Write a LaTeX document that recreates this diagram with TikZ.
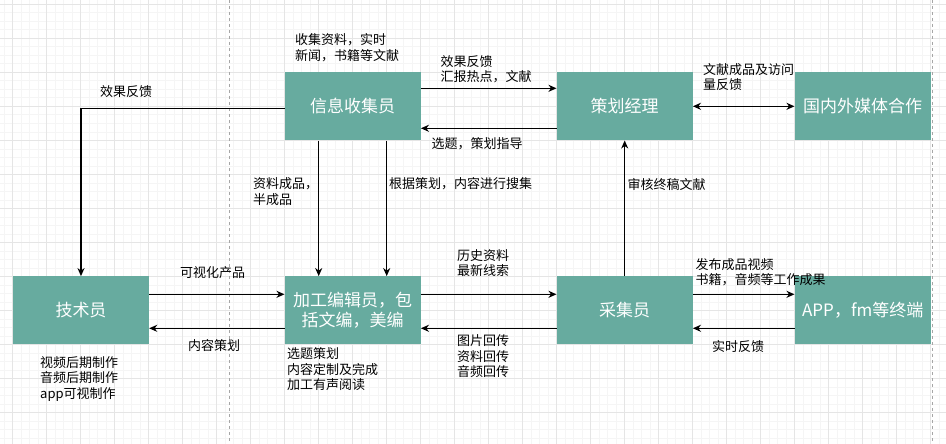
\documentclass[tikz,border=0pt]{standalone}
\usepackage{fontspec}
\setmainfont{Noto Sans CJK SC}
\usepackage{xcolor}
\usetikzlibrary{arrows.meta, positioning, calc}
\definecolor{boxteal}{HTML}{67AB9F}
\tikzstyle{role} = [rectangle, fill=boxteal, text=white, minimum width=136pt, minimum height=68pt, inner sep=0pt, align=center, font=\fontsize{17}{20}\selectfont]
\tikzstyle{note} = [anchor=west, inner sep=0pt, align=left, font=\fontsize{13}{15.5}\selectfont]
\tikzstyle{arrow} = [line width=1.3pt, -{Stealth[length=8pt,width=7pt,inset=2.5pt]}]
\tikzstyle{biarrow} = [line width=1.3pt, {Stealth[length=8pt,width=7pt,inset=2.5pt]}-{Stealth[length=8pt,width=7pt,inset=2.5pt]}]
\tikzstyle{minorgrid} = [draw=black!4, line width=0.6pt]
\tikzstyle{majorgrid} = [draw=black!10, line width=0.8pt]
\tikzstyle{pagebreak} = [draw=black!35, dashed, line width=0.6pt]

\begin{document}
\begin{tikzpicture}[x=1pt, y=-1pt]
    \clip (0,0) rectangle (946,444);
    \fill[white] (0,0) rectangle (946,444);

    % Background grid
    \foreach \i in {-1,...,110}
        \draw[minorgrid] ({12.7+8.5*\i},0) -- ({12.7+8.5*\i},444);
    \foreach \j in {0,...,51}
        \draw[minorgrid] (0,{4.3+8.5*\j}) -- (946,{4.3+8.5*\j});
    \foreach \i in {0,...,27}
        \draw[majorgrid] ({12.7+34*\i},0) -- ({12.7+34*\i},444);
    \foreach \j in {0,...,12}
        \draw[majorgrid] (0,{4.3+34*\j}) -- (946,{4.3+34*\j});
    \draw[pagebreak] (229.5,0) -- (229.5,444);
    \draw[pagebreak] (932,0) -- (932,444);

    % Top row
    \node[role] (info) at (352.7,106.3) {信息收集员};
    \node[role] (plan) at (624.7,106.3) {策划经理};
    \node[role] (media) at (862.7,106.3) {国内外媒体合作};

    % Bottom row
    \node[role] (tech) at (81,310.3) {技术员};
    \node[role] (edit) at (352.7,310.3) {加工编辑员，包\\括文编，美编};
    \node[role] (collect) at (624.7,310.3) {采集员};
    \node[role] (app) at (862.7,310.3) {APP，fm等终端};

    % Connectors
    \draw[arrow] ([yshift=18pt]info.east) -- ([yshift=18pt]plan.west);
    \draw[arrow] ([yshift=-22pt]plan.west) -- ([yshift=-22pt]info.east);
    \draw[biarrow] (plan) -- (media);
    \draw[arrow] ([yshift=-2pt]info.west) -| (tech.north);
    \draw[arrow] ([xshift=-34pt]info.south) -- ([xshift=-34pt]edit.north);
    \draw[arrow] ([xshift=34pt]info.south) -- ([xshift=34pt]edit.north);
    \draw[arrow] ([yshift=16pt]tech.east) -- ([yshift=16pt]edit.west);
    \draw[arrow] ([yshift=-18pt]edit.west) -- ([yshift=-18pt]tech.east);
    \draw[arrow] ([yshift=16pt]edit.east) -- ([yshift=16pt]collect.west);
    \draw[arrow] ([yshift=-18pt]collect.west) -- ([yshift=-18pt]edit.east);
    \draw[arrow] (collect) -- (plan);
    \draw[arrow] ([yshift=16pt]collect.east) -- ([yshift=16pt]app.west);
    \draw[arrow] ([yshift=-18pt]app.west) -- ([yshift=-18pt]collect.east);

    % Labels
    \node[note] (gatherNote) at (295,47.5) {收集资料，实时\\新闻，书籍等文献};
    \node[note] (reportNote) at (440.5,69) {效果反馈\\汇报热点，文献};
    \node[note] (guideNote) at (431.5,143.3) {选题，策划指导};
    \node[note] (mediaNote) at (703,77) {文献成品及访问\\量反馈};
    \node[note] (techFbNote) at (100,91.7) {效果反馈};
    \node[note] (halfNote) at (253,191.7) {资料成品，\\半成品};
    \node[note] (searchNote) at (389,184) {根据策划，内容进行搜集};
    \node[note] (reviewNote) at (627.5,184.3) {审核终稿文献};
    \node[note] (visualNote) at (180,272.7) {可视化产品};
    \node[note] (planNote) at (188,346) {内容策划};
    \node[note] (techNote) at (40,378.7) {视频后期制作\\音频后期制作\\app可视制作};
    \node[note] (editNote) at (287,369.3) {选题策划\\内容定制及完成\\加工有声阅读};
    \node[note] (clueNote) at (457,263) {历史资料\\最新线索};
    \node[note] (backNote) at (457,356.5) {图片回传\\资料回传\\音频回传};
    \node[note] (publishNote) at (695.5,272) {发布成品视频\\书籍，音频等工作成果};
    \node[note] (liveNote) at (712,346.7) {实时反馈};
\end{tikzpicture}
\end{document}
